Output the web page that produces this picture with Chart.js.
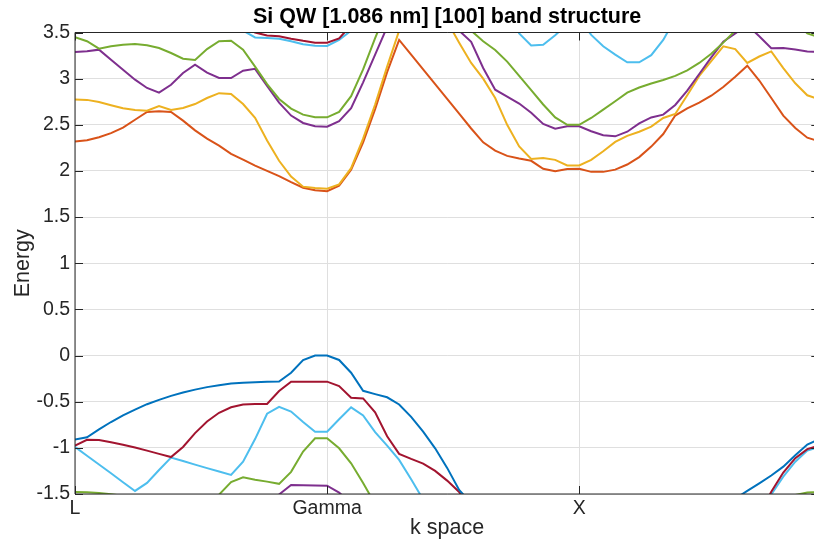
<!DOCTYPE html>
<html>
<head>
<meta charset="utf-8">
<script src="https://cdn.jsdelivr.net/npm/chart.js@4.4.1/dist/chart.umd.min.js"></script>
<style>
  html, body { margin: 0; padding: 0; background: #fff; overflow: hidden; width: 814px; height: 546px; }
  #wrap { width: 820px; height: 546px; }
</style>
</head>
<body>
<div id="wrap"><canvas id="bands" width="820" height="546"></canvas></div>
<script>
// k-path sample index, L ... Gamma ... X ... back to the zone edge
const kIndex = Array.from({ length: 63 }, (_, i) => i);
const kTickPos = [0, 21, 42];
const kTickLabels = ['L', 'Gamma', 'X'];

// conduction bands (lowest first)
const cb1 = [2.32, 2.332, 2.365, 2.41, 2.47, 2.555, 2.64, 2.646, 2.64, 2.545, 2.44, 2.35,
  2.275, 2.186, 2.123, 2.058, 2.0, 1.944, 1.879, 1.818, 1.79, 1.78, 1.84,
  2.014, 2.31, 2.67, 3.07, 3.42, 3.26, 3.10, 2.94, 2.78, 2.62, 2.46,
  2.31, 2.22, 2.163, 2.134, 2.11, 2.024, 1.996, 2.02, 2.024, 1.99, 1.99, 2.014,
  2.07, 2.15, 2.264, 2.40, 2.60, 2.677, 2.74, 2.815, 2.91, 3.02, 3.14,
  2.98, 2.79, 2.60, 2.465, 2.36, 2.32];
const cb2 = [2.775, 2.77, 2.747, 2.712, 2.68, 2.66, 2.652, 2.703, 2.66, 2.682, 2.725, 2.79,
  2.843, 2.835, 2.725, 2.575, 2.33, 2.11, 1.94, 1.83, 1.815, 1.808, 1.855,
  2.03, 2.35, 2.72, 3.13, 3.52, 3.78, 3.85, 3.8, 3.62, 3.39, 3.17,
  3.0, 2.79, 2.5, 2.265, 2.13, 2.14, 2.12, 2.06, 2.06, 2.12, 2.213, 2.314,
  2.38, 2.425, 2.48, 2.574, 2.617, 2.82, 3.03, 3.19, 3.35, 3.32, 3.17,
  3.24, 3.295, 3.115, 2.95, 2.82, 2.775];
const cb3 = [3.289, 3.296, 3.314, 3.205, 3.097, 2.989, 2.899, 2.848, 2.934, 3.061, 3.151, 3.065,
  3.007, 3.007, 3.086, 3.106, 2.92, 2.74, 2.6, 2.52, 2.484, 2.48, 2.54,
  2.68, 2.96, 3.26, 3.56, 3.85, 4.0, 4.05, 4.0, 3.8, 3.52, 3.40,
  3.115, 2.88, 2.805, 2.73, 2.63, 2.509, 2.458, 2.484, 2.484, 2.43, 2.386, 2.375,
  2.425, 2.515, 2.58, 2.61, 2.715, 2.87, 3.05, 3.23, 3.40, 3.49, 3.58,
  3.46, 3.33, 3.332, 3.316, 3.295, 3.289];
const cb4 = [3.448, 3.405, 3.325, 3.35, 3.368, 3.375, 3.361, 3.332, 3.278, 3.216, 3.202, 3.32,
  3.405, 3.41, 3.314, 3.13, 2.94, 2.78, 2.675, 2.61, 2.581, 2.581, 2.64,
  2.81, 3.1, 3.44, 3.75, 3.95, 4.05, 4.1, 4.0, 3.85, 3.68, 3.52,
  3.405, 3.31, 3.185, 3.03, 2.875, 2.72, 2.58, 2.5, 2.5, 2.574, 2.664, 2.755,
  2.848, 2.904, 2.947, 2.985, 3.03, 3.09, 3.17, 3.27, 3.39, 3.52, 3.7,
  3.85, 3.85, 3.75, 3.62, 3.49, 3.448];
const cb5 = [null, null, null, null, null, null, null, null, null, null, null, null,
  null, 3.62, 3.52, 3.447, 3.44, 3.432, 3.405, 3.373, 3.356, 3.354, 3.42,
  3.52, 3.7, null, null, null, null, null, null, null, null, null,
  null, null, 3.75, 3.49, 3.36, 3.366, 3.47, 3.59, 3.65, 3.474, 3.35, 3.26,
  3.177, 3.177, 3.255, 3.42, 3.65, null, null, null, null, null, null,
  null, null, null, null, null, null];
const cb6 = [null, null, null, null, null, null, null, null, null, null, null, null,
  null, null, 3.56, 3.5, 3.468, 3.46, 3.433, 3.41, 3.39, 3.39, 3.435,
  3.58, null, null, null, null, null, null, null, null, null, null,
  null, null, null, null, null, null, null, null, null, null, null, null,
  null, null, null, null, null, null, null, null, null, null, null,
  null, null, null, null, null, null];

// valence bands (highest first)
const vb1 = [-0.91, -0.886, -0.80, -0.72, -0.647, -0.585, -0.527, -0.48, -0.437, -0.40, -0.369, -0.342,
  -0.323, -0.303, -0.295, -0.288, -0.284, -0.282, -0.186, -0.05, 0.0, 0.0, -0.048,
  -0.186, -0.382, -0.418, -0.452, -0.53, -0.665, -0.825, -1.005, -1.217, -1.456, -1.6,
  null, null, null, null, null, null, null, null, null, null, null, null,
  null, null, null, null, null, null, null, null, null, -1.55, -1.467,
  -1.385, -1.30, -1.204, -1.08, -0.965, -0.905];
const vb2 = [-0.975, -0.912, -0.914, -0.94, -0.966, -0.997, -1.03, -1.065, -1.10, -0.99, -0.84, -0.715,
  -0.62, -0.56, -0.53, -0.525, -0.525, -0.385, -0.283, -0.283, -0.283, -0.283, -0.33,
  -0.457, -0.465, -0.615, -0.875, -1.065, -1.12, -1.17, -1.25, -1.355, -1.478, -1.70,
  null, null, null, null, null, null, null, null, null, null, null, null,
  null, null, null, null, null, null, null, null, null, null, null,
  -1.72, -1.476, -1.267, -1.112, -1.014, -0.975];
const vb3 = [-0.99, -1.085, -1.18, -1.275, -1.372, -1.467, -1.38, -1.24, -1.105, -1.143, -1.182, -1.22,
  -1.256, -1.293, -1.15, -0.905, -0.63, -0.555, -0.607, -0.72, -0.825, -0.825, -0.69,
  -0.561, -0.648, -0.83, -0.975, -1.13, -1.34, -1.56, null, null, null, null,
  null, null, null, null, null, null, null, null, null, null, null, null,
  null, null, null, null, null, null, null, null, null, null, null,
  -1.70, -1.505, -1.312, -1.15, -1.028, -0.99];
const vb4 = [-1.477, -1.48, -1.488, -1.502, -1.52, null, null, null, null, null, null, null,
  -1.507, -1.37, -1.32, -1.345, -1.366, -1.39, -1.26, -1.04, -0.897, -0.897, -1.005,
  -1.167, -1.38, -1.61, null, null, null, null, null, null, null, null,
  null, null, null, null, null, null, null, null, null, null, null, null,
  null, null, null, null, null, null, null, null, null, null, null,
  null, null, null, -1.51, -1.485, -1.477];
const vb5 = [null, null, null, null, null, null, null, null, null, null, null, null,
  null, null, null, null, -1.62, -1.505, -1.403, -1.405, -1.408, -1.41, -1.485,
  -1.6, null, null, null, null, null, null, null, null, null, null,
  null, null, null, null, null, null, null, null, null, null, null, null,
  null, null, null, null, null, null, null, null, null, null, null,
  null, null, null, null, null, null];

const BLUE = '#0072BD', ORANGE = '#D95319', YELLOW = '#EDB120', PURPLE = '#7E2F8E',
  GREEN = '#77AC30', LIGHTBLUE = '#4DBEEE', DARKRED = '#A2142F';

// plotted bottom band first, like the original
const bands = [
  [vb5, PURPLE], [vb4, GREEN], [vb3, LIGHTBLUE], [vb2, DARKRED], [vb1, BLUE],
  [cb1, ORANGE], [cb2, YELLOW], [cb3, PURPLE], [cb4, GREEN], [cb5, LIGHTBLUE], [cb6, DARKRED]
];

const FONT = "'Liberation Sans', Arial, Helvetica, sans-serif";
const TEXT = '#262626';
Chart.defaults.font.family = FONT;
Chart.defaults.color = TEXT;

// MATLAB-like box with inward ticks
const boxTicks = {
  id: 'boxTicks',
  afterDatasetsDraw(chart) {
    const { ctx, chartArea: a, scales: { x, y } } = chart;
    ctx.save();
    ctx.strokeStyle = TEXT;
    ctx.lineWidth = 1;
    ctx.beginPath();
    ctx.rect(a.left, a.top, a.right - a.left, a.bottom - a.top);
    y.ticks.forEach(t => {
      const py = Math.round(y.getPixelForValue(t.value)) + 0.5;
      ctx.moveTo(a.left, py); ctx.lineTo(a.left + 8, py);
      ctx.moveTo(a.right - 8, py); ctx.lineTo(a.right, py);
    });
    x.ticks.forEach(t => {
      const px = Math.round(x.getPixelForValue(t.value)) + 0.5;
      ctx.moveTo(px, a.bottom); ctx.lineTo(px, a.bottom - 8);
      ctx.moveTo(px, a.top); ctx.lineTo(px, a.top + 8);
    });
    ctx.stroke();
    ctx.restore();
  }
};

new Chart(document.getElementById('bands'), {
  type: 'line',
  data: {
    datasets: bands.map(([vals, color]) => ({
      data: kIndex.map((k, i) => ({ x: k, y: vals[i] })),
      borderColor: color,
      borderWidth: 2,
      pointRadius: 0,
      tension: 0,
      fill: false,
      clip: 0
    })).reverse()
  },
  options: {
    responsive: false,
    animation: false,
    devicePixelRatio: 1,
    layout: { padding: { left: 0, right: 0.7, top: 0, bottom: 0 } },
    plugins: {
      legend: { display: false },
      tooltip: { enabled: false },
      title: {
        display: true,
        fullSize: false,
        text: 'Si QW [1.086 nm] [100] band structure',
        color: '#000',
        font: { size: 21.5, weight: 'bold' },
        padding: { top: 4, bottom: 2.7 }
      }
    },
    scales: {
      x: {
        type: 'linear',
        min: 0,
        max: 62,
        afterBuildTicks: s => { s.ticks = kTickPos.map(v => ({ value: v })); },
        afterFit: s => { s.height = 52; },
        ticks: {
          callback: v => kTickLabels[kTickPos.indexOf(v)],
          font: { size: 19.5 },
          color: TEXT,
          padding: 3,
          maxRotation: 0,
          autoSkip: false
        },
        grid: { color: '#dfdfdf', drawTicks: false },
        border: { display: false },
        title: { display: true, text: 'k space', font: { size: 21.5 }, color: TEXT, padding: { top: 0, bottom: 5 } }
      },
      y: {
        min: -1.5,
        max: 3.5,
        afterFit: s => { s.width = 75; },
        ticks: {
          stepSize: 0.5,
          callback: v => String(Math.round(v * 10) / 10),
          font: { size: 19.5 },
          color: TEXT,
          padding: 5
        },
        grid: { color: '#dfdfdf', drawTicks: false },
        border: { display: false },
        title: { display: true, text: 'Energy', font: { size: 21.5 }, color: TEXT, padding: { top: 10, bottom: 0 } }
      }
    }
  },
  plugins: [boxTicks]
});
</script>
</body>
</html>
